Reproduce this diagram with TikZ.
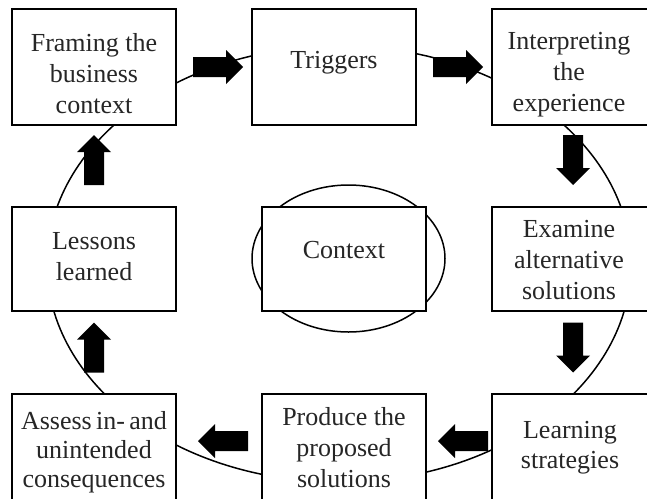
\documentclass[tikz,border=0pt]{standalone}
\usepackage{fontspec}
\setmainfont{Liberation Serif}
\usetikzlibrary{shapes.geometric,calc}
\begin{document}
\begin{tikzpicture}[x=1pt,y=-1pt,
  box/.style={draw=black, line width=1.8pt, fill=white, inner sep=0pt},
  lbl/.style={align=center, font=\fontsize{26pt}{31pt}\selectfont, inner sep=0pt, text=black!85},
  ring/.style={draw=black, line width=1.5pt},
  barrow/.pic={\fill[black] (-25,-10) -- (8,-10) -- (8,-17) -- (25,0) -- (8,17) -- (8,10) -- (-25,10) -- cycle;}]
\useasboundingbox (0,0) rectangle (647,498);
\clip (0,0) rectangle (647,498);
\fill[white] (0,0) rectangle (647,498);
% big cycle
\draw[ring] (339,264) ellipse [x radius=292pt, y radius=218pt];
% context ellipse
\node[ellipse, ring, minimum width=193pt, minimum height=147pt] (ctxell) at (348.5,258.5) {};
% boxes
\node[box, minimum width=164pt, minimum height=116pt] (framing) at (94,67) {};
\node[box, minimum width=164pt, minimum height=116pt] (triggers) at (334,67) {};
\node[box, minimum width=156pt, minimum height=116pt] (interp) at (570,67) {};
\node[box, minimum width=164pt, minimum height=104pt] (lessons) at (94,259) {};
\node[box, minimum width=164pt, minimum height=104pt] (context) at (344,259) {};
\node[box, minimum width=156pt, minimum height=104pt] (examine) at (570,259) {};
\node[box, minimum width=164pt, minimum height=116pt] (assess) at (94,452) {};
\node[box, minimum width=164pt, minimum height=116pt] (produce) at (344,452) {};
\node[box, minimum width=156pt, minimum height=116pt] (learning) at (570,452) {};
% labels
\node[lbl] (framingt) at (94,74) {Framing the\\business\\context};
\node[lbl] (triggerst) at (334,63) {Triggers};
\node[lbl] (interpt) at (569,75) {Interpreting\\the\\experience};
\node[lbl] (lessonst) at (94,257) {Lessons\\learned};
\node[lbl] (contextt) at (344,250) {Context};
\node[lbl] (examinet) at (569,260) {Examine\\alternative\\solutions};
\node[lbl, font=\fontsize{26pt}{29pt}\selectfont] (assesst) at (94,452) {\hbox to 146pt{Assess\hfil in-\hfil and}\\unintended\\consequences};
\node[lbl] (producet) at (344,448) {Produce the\\proposed\\solutions};
\node[lbl, font=\fontsize{26pt}{30pt}\selectfont] (learningt) at (570,448) {Learning\\strategies};
% block arrows
\pic at ($(framing.east)!0.5!(triggers.west)+(4,0)$) {barrow};
\pic at ($(triggers.east)!0.5!(interp.west)+(4,0)$) {barrow};
\pic[rotate=-90] at ($(interp.south)!0.5!(examine.north)+(3,-6)$) {barrow};
\pic[rotate=-90] at ($(examine.south)!0.5!(learning.north)+(3,-5)$) {barrow};
\pic[rotate=180] at ($(learning.west)!0.5!(produce.east)+(4,-11)$) {barrow};
\pic[rotate=180] at ($(produce.west)!0.5!(assess.east)+(4,-11)$) {barrow};
\pic[rotate=90] at ($(assess.north)!0.5!(lessons.south)+(0,-5)$) {barrow};
\pic[rotate=90] at ($(lessons.north)!0.5!(framing.south)+(0,-6)$) {barrow};
\end{tikzpicture}
\end{document}
